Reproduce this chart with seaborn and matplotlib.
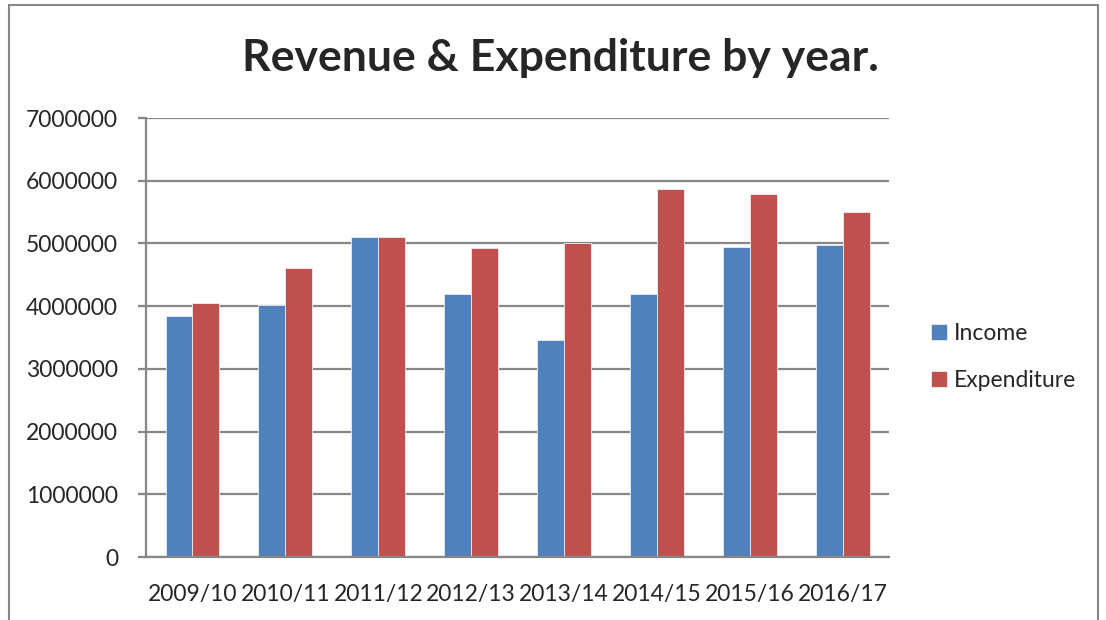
import pandas as pd
import matplotlib.pyplot as plt
import seaborn as sns
from matplotlib.patches import Rectangle

# Chart data
years = ["2009/10", "2010/11", "2011/12", "2012/13",
         "2013/14", "2014/15", "2015/16", "2016/17"]
income = [3850000, 4020000, 5100000, 4190000,
          3460000, 4190000, 4950000, 4970000]
expenditure = [4050000, 4610000, 5100000, 4930000,
               5010000, 5870000, 5790000, 5500000]

df = pd.DataFrame({
    "Year": years * 2,
    "Value": income + expenditure,
    "Series": ["Income"] * len(years) + ["Expenditure"] * len(years)
})

sns.set_style("white")
plt.rcParams["font.family"] = ["Lato", "DejaVu Sans"]

fig = plt.figure(figsize=(11.06, 6.2), dpi=100)
ax = fig.add_axes([0.132, 0.1016, 0.672, 0.708])

sns.barplot(
    data=df, x="Year", y="Value", hue="Series",
    palette={"Income": "#4F81BD", "Expenditure": "#C0504D"},
    saturation=1, width=0.58, gap=0,
    edgecolor="#E8EEF6", linewidth=0.6,
    ax=ax
)

ax.set_ylim(0, 7000000)
ax.set_yticks(range(0, 7000001, 1000000))
ax.set_yticklabels([str(v) for v in range(0, 7000001, 1000000)])
ax.yaxis.grid(True, color="#878787", linewidth=1.6)
ax.set_axisbelow(True)
ax.set_xlim(-0.5, len(years) - 0.5)
ax.set_xlabel("")
ax.set_ylabel("")

for side in ["top", "right"]:
    ax.spines[side].set_visible(False)
for side in ["left", "bottom"]:
    ax.spines[side].set_color("#878787")
    ax.spines[side].set_linewidth(1.6)

ax.tick_params(axis="y", left=True, length=6, width=1.6, color="#878787",
               labelsize=16.5, pad=14)
ax.tick_params(axis="x", bottom=False, labelsize=16.5, pad=16)

leg = ax.legend(
    loc="center left", bbox_to_anchor=(1.028, 0.455),
    frameon=False, fontsize=16.5, handlelength=0.7, handleheight=0.7,
    handletextpad=0.3, labelspacing=1.15
)

fig.suptitle("Revenue & Expenditure by year.", fontsize=32,
             fontweight="bold", x=0.507, y=0.938)

fig.patches.append(Rectangle(
    (0.008, -0.01), 0.985, 1.002, transform=fig.transFigure,
    fill=False, edgecolor="#878787", linewidth=1.5
))

fig.savefig("out.png", dpi=100)
